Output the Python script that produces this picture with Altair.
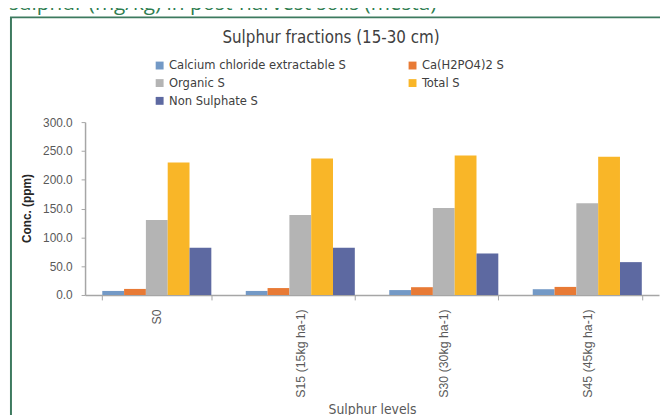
import altair as alt
import pandas as pd

categories = ["S0", "S15 (15kg ha-1)", "S30 (30kg ha-1)", "S45 (45kg ha-1)"]
series = ["Calcium chloride extractable S", "Ca(H2PO4)2 S", "Organic S", "Total S", "Non Sulphate S"]
calcium_chloride = [7.0, 7.0, 8.5, 10.0]
ca_h2po4 = [10.5, 12.0, 13.5, 14.0]
organic = [130.0, 139.0, 151.0, 159.0]
total = [230.0, 237.0, 242.0, 240.0]
non_sulphate = [82.0, 82.0, 72.0, 57.0]
colors = ["#7399c6", "#e87a35", "#b4b4b4", "#f9b628", "#5d69a1"]
y_ticks = [0, 50, 100, 150, 200, 250, 300]
chart_title = "Sulphur fractions (15-30 cm)"
header_text = "sulphur (mg/kg) in post-harvest soils (mesta)"

rows = []
for s, vals in zip(series, [calcium_chloride, ca_h2po4, organic, total, non_sulphate]):
    for c, v in zip(categories, vals):
        rows.append({"level": c, "fraction": s, "value": v})
df = pd.DataFrame(rows)

NARROW = "Liberation Sans Narrow, Arial Narrow, DejaVu Sans Condensed, sans-serif"
SANS = "Liberation Sans, Arial, sans-serif"

bars = alt.Chart(df).mark_bar().encode(
    x=alt.X(
        "level:N",
        sort=categories,
        scale=alt.Scale(paddingInner=0.24, paddingOuter=0.12),
        axis=alt.Axis(
            title="Sulphur levels",
            labelAngle=-90,
            labelFont=SANS,
            labelFontSize=12.5,
            labelColor="#595959",
            labelPadding=9,
            tickBand="extent",
            tickSize=5,
            tickColor="#a6a6a6",
            domainColor="#a6a6a6",
            domainWidth=1.5,
            titleFont=NARROW,
            titleFontSize=14,
            titleFontWeight="normal",
            titleColor="#595959",
            titleY=109,
        ),
    ),
    xOffset=alt.XOffset("fraction:N", sort=series, scale=alt.Scale(paddingInner=0, paddingOuter=0)),
    y=alt.Y(
        "value:Q",
        scale=alt.Scale(domain=[0, 300]),
        axis=alt.Axis(
            values=y_ticks,
            format=".1f",
            grid=False,
            title="Conc. (ppm)",
            labelFont=SANS,
            labelFontSize=12,
            labelColor="#595959",
            labelPadding=9,
            tickSize=4,
            tickColor="#a6a6a6",
            domainColor="#a6a6a6",
            domainWidth=1.5,
            titleFont=SANS,
            titleFontSize=12,
            titleFontWeight="bold",
            titleColor="#262626",
            titleX=-59,
            titleY=87,
            titleBaseline="middle",
            titleAngle=-90,
        ),
    ),
    color=alt.Color(
        "fraction:N",
        sort=series,
        scale=alt.Scale(domain=series, range=colors),
        legend=alt.Legend(
            title=None,
            orient="none",
            direction="horizontal",
            legendX=69,
            legendY=-64,
            columns=2,
            columnPadding=60,
            rowPadding=4,
            symbolType="square",
            symbolSize=64,
            symbolStrokeWidth=0,
            labelFont=NARROW,
            labelFontSize=13,
            labelColor="#404040",
            labelOffset=3,
            labelLimit=300,
        ),
    ),
)

frame_df = pd.DataFrame({"k": [0]})
border = alt.Chart(frame_df).mark_rect(
    fillOpacity=0, stroke="#3d7a5f", strokeWidth=2
).encode(
    x=alt.value(-75), x2=alt.value(700), y=alt.value(-106), y2=alt.value(400)
)

header_df = pd.DataFrame({"t": [header_text]})
header = alt.Chart(header_df).mark_text(
    align="left", baseline="alphabetic", font="Open Sans, sans-serif", fontSize=21, color="#2e7d4f"
).encode(x=alt.value(-77), y=alt.value(-113), text="t:N")

title_df = pd.DataFrame({"t": [chart_title]})
title = alt.Chart(title_df).mark_text(
    align="center", baseline="alphabetic", font=NARROW, fontSize=17, color="#404040"
).encode(x=alt.value(249), y=alt.value(-80), text="t:N")

chart = alt.layer(border, header, title, bars).properties(
    width=581,
    height=175,
    autosize=alt.AutoSizeParams(type="none"),
    padding={"left": 78, "top": 113, "right": 1, "bottom": 119},
).configure_view(stroke=None)

chart.save("out.html", embed_options={"renderer": "svg", "actions": False})
